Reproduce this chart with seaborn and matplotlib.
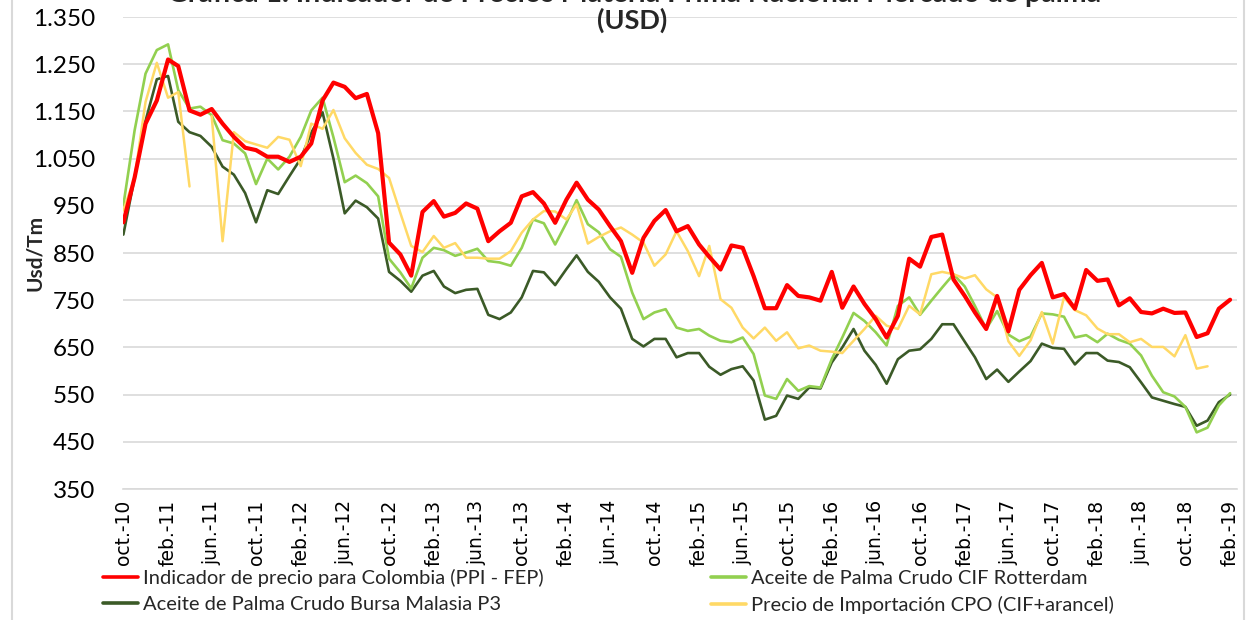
import numpy as np
import pandas as pd
import matplotlib
matplotlib.use("Agg")
import matplotlib.pyplot as plt
from matplotlib.lines import Line2D
from matplotlib.patches import Rectangle
import seaborn as sns

# monthly data, oct-2010 .. feb-2019 (USD/t)
fechas = pd.date_range("2010-10-01", periods=101, freq="MS")

ppi_fep = [915, 1010, 1124, 1173, 1260, 1246, 1152, 1143, 1155, 1124,
           1096, 1073, 1068, 1054, 1054, 1043, 1054, 1082, 1173, 1211,
           1202, 1178, 1187, 1104, 872, 847, 802, 937, 960, 927,
           935, 955, 944, 875, 896, 914, 970, 979, 955, 914,
           963, 999, 963, 942, 907, 875, 808, 882, 918, 941,
           896, 907, 868, 842, 815, 866, 861, 801, 733, 733,
           782, 759, 756, 749, 810, 734, 779, 742, 710, 671,
           717, 838, 821, 884, 889, 794, 759, 724, 689, 759,
           684, 772, 803, 829, 756, 763, 732, 814, 791, 794,
           739, 754, 725, 722, 732, 723, 724, 672, 680, 732, 751]

cif_rotterdam = [951, 1110, 1230, 1280, 1292, 1195, 1156, 1160, 1142, 1089,
                 1082, 1061, 996, 1050, 1027, 1054, 1096, 1152, 1179, 1095,
                 1000, 1014, 998, 970, 838, 809, 775, 840, 861, 856,
                 844, 851, 859, 833, 830, 823, 861, 921, 913, 868,
                 914, 962, 911, 894, 858, 842, 766, 710, 724, 731,
                 692, 685, 689, 675, 664, 661, 671, 636, 548, 541,
                 583, 558, 568, 565, 625, 671, 723, 706, 682, 654,
                 738, 756, 719, 749, 777, 805, 779, 738, 689, 727,
                 677, 663, 673, 722, 720, 715, 671, 676, 661, 679,
                 666, 658, 633, 590, 555, 546, 524, 470, 480, 527, 553]

bursa_malasia = [889, 1010, 1130, 1218, 1225, 1128, 1106, 1098, 1075, 1033,
                 1016, 977, 915, 983, 975, 1013, 1050, 1105, 1148, 1050,
                 934, 961, 947, 923, 810, 791, 768, 802, 812, 779,
                 765, 772, 774, 719, 710, 724, 756, 812, 809, 782,
                 816, 845, 810, 789, 756, 732, 668, 652, 668, 668,
                 629, 638, 638, 609, 592, 604, 610, 580, 497, 505,
                 548, 541, 565, 563, 618, 650, 689, 643, 613, 573,
                 625, 643, 646, 668, 699, 699, 662, 629, 583, 603,
                 577, 599, 621, 658, 649, 647, 614, 638, 638, 622,
                 619, 608, 576, 544, 537, 530, 524, 484, 495, 534, 550]

importacion_cpo = [940, 1010, 1170, 1253, 1179, 1191, 991, np.nan, 1140, 875,
                   1106, 1087, 1080, 1073, 1096, 1090, 1034, 1124, 1113, 1153,
                   1093, 1062, 1037, 1028, 1009, 935, 865, 852, 886, 861,
                   871, 840, 840, 838, 838, 854, 893, 921, 939, 938,
                   921, 953, 870, 884, 896, 904, 889, 872, 823, 847,
                   896, 854, 801, 865, 752, 734, 692, 669, 692, 664,
                   682, 648, 654, 643, 641, 638, 664, 689, 717, 696,
                   689, 738, 720, 805, 810, 805, 796, 803, 773, 756,
                   663, 632, 665, 725, 658, 756, 729, 718, 690, 678,
                   678, 661, 668, 651, 651, 631, 676, 605, 610, np.nan, np.nan]

nombres = ["Indicador de precio para Colombia (PPI - FEP)",
           "Aceite de Palma Crudo Bursa Malasia P3",
           "Aceite de Palma Crudo CIF Rotterdam",
           "Precio de Importación CPO (CIF+arancel)"]
valores = [ppi_fep, bursa_malasia, cif_rotterdam, importacion_cpo]
colores = ["#ff0000", "#3b5a27", "#92d050", "#ffd966"]
grosores = [3.0, 1.9, 1.9, 1.8]

etiquetas_x = ["oct.-10", "feb.-11", "jun.-11", "oct.-11", "feb.-12", "jun.-12",
               "oct.-12", "feb.-13", "jun.-13", "oct.-13", "feb.-14", "jun.-14",
               "oct.-14", "feb.-15", "jun.-15", "oct.-15", "feb.-16", "jun.-16",
               "oct.-16", "feb.-17", "jun.-17", "oct.-17", "feb.-18", "jun.-18",
               "oct.-18", "feb.-19"]

sns.set_theme(style="white")
plt.rcParams["font.family"] = ["Lato", "DejaVu Sans"]

W, H = 1255, 620
fig = plt.figure(figsize=(W / 100, H / 100), dpi=100)
ax = fig.add_axes([123 / W, 1 - 489 / H, (1237 - 123) / W, (489 - 17) / H])

# draw back to front so the red indicator stays on top
orden_dibujo = [1, 2, 3, 0]
for k in orden_dibujo:
    df = pd.DataFrame({"fecha": fechas, "usd": valores[k]})
    df["tramo"] = df["usd"].isna().cumsum()
    df = df.dropna()
    sns.lineplot(data=df, x="fecha", y="usd", units="tramo", estimator=None,
                 color=colores[k], linewidth=grosores[k], ax=ax, legend=False)

ax.set_ylim(350, 1350)
ax.set_yticks(np.arange(350, 1351, 100))
ax.set_yticklabels([f"{v:,.0f}".replace(",", ".") for v in np.arange(350, 1351, 100)])
ax.yaxis.grid(True, color="#d9d9d9", linewidth=1.2)
ax.set_axisbelow(True)

ax.set_xlim(fechas[0] - pd.Timedelta(days=1), fechas[-1] + pd.Timedelta(days=19))
ax.set_xticks(fechas[::4])
ax.set_xticklabels(etiquetas_x, rotation=90, family="DejaVu Sans", fontsize=13.5)

for s in ["top", "right", "left"]:
    ax.spines[s].set_visible(False)
ax.spines["bottom"].set_color("#d9d9d9")
ax.spines["bottom"].set_linewidth(1.2)
ax.tick_params(axis="x", length=5, color="#d9d9d9", width=1.2, pad=3, labelcolor="black")
ax.tick_params(axis="y", length=0, pad=20, labelsize=17.5, labelcolor="black")

ax.set_xlabel("")
ax.set_ylabel("Usd/Tm", fontsize=15, fontweight="bold")
ax.yaxis.set_label_coords((45 - 123) / 1114, 0.5)

# first title line sits mostly above the canvas, as in the source image
fig.text(634 / W, 1 - 2 / H, "Gráfica 1. Indicador de Precios Materia Prima Nacional Mercado de palma",
         ha="center", va="baseline", fontsize=20.5, fontweight="bold")
fig.text(632 / W, 1 - 20 / H, "(USD)", ha="center", va="center",
         fontsize=19.5, fontweight="bold")

handles = [Line2D([], [], color=c, linewidth=2.6) for c in colores]
fig.legend(handles, nombres, ncol=2, loc="upper left",
           bbox_to_anchor=(103 / W, 1 - 569 / H), frameon=False, fontsize=14.5,
           handlelength=1.75, handletextpad=0.25, columnspacing=8.3,
           labelspacing=0.42, borderaxespad=0, borderpad=0)

fig.patches.append(Rectangle((12 / W, -0.01), 1232 / W, 1.02, transform=fig.transFigure,
                             fill=False, edgecolor="#d9d9d9", linewidth=1.5))

fig.savefig("out.png", dpi=100)
